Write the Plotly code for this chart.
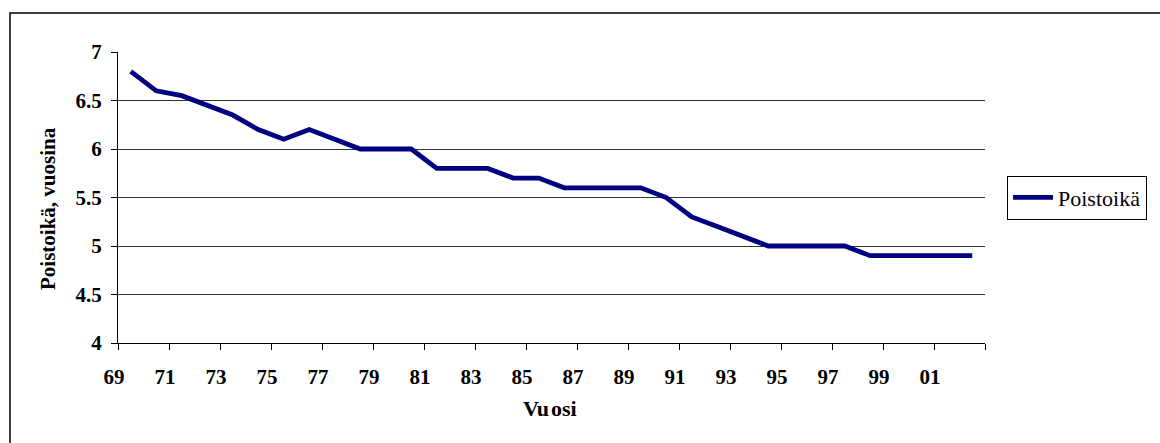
import plotly.graph_objects as go

years = [str(y) for y in range(1969, 2003)]
poistoika = [6.8, 6.6, 6.55, 6.45, 6.35, 6.2, 6.1, 6.2, 6.1, 6.0,
             6.0, 6.0, 5.8, 5.8, 5.8, 5.7, 5.7, 5.6, 5.6, 5.6,
             5.6, 5.5, 5.3, 5.2, 5.1, 5.0, 5.0, 5.0, 5.0, 4.9,
             4.9, 4.9, 4.9, 4.9]
x_labels = ["69", "71", "73", "75", "77", "79", "81", "83", "85",
            "87", "89", "91", "93", "95", "97", "99", "01", ""]
y_ticks = [4, 4.5, 5, 5.5, 6, 6.5, 7]

W, H = 1160, 443
L, R, T, B = 118, 175, 52, 100
pw, ph = W - L - R, H - T - B

idx = list(range(len(years)))
n = len(years)
tick_pos = [-0.5 + 2 * k for k in range(n // 2 + 1)]

FONT = "Liberation Serif"

fig = go.Figure()
fig.add_trace(go.Scatter(
    x=idx, y=poistoika, mode="lines", name="Poistoikä",
    line=dict(color="#000080", width=4.8),
    customdata=years, hovertemplate="%{customdata}: %{y}<extra></extra>",
))

fig.update_layout(
    width=W, height=H,
    margin=dict(l=L, r=R, t=T, b=B, autoexpand=False),
    paper_bgcolor="white", plot_bgcolor="white",
    font=dict(family=FONT, color="black"),
    xaxis=dict(
        range=[-0.5, n - 0.5], tickmode="array", tickvals=tick_pos,
        ticktext=x_labels, ticks="outside", ticklen=6,
        tickcolor="black", tickwidth=1, showgrid=False, zeroline=False,
        showline=True, linecolor="black", linewidth=1,
        ticklabelshift=-4, ticklabelstandoff=9,
        tickfont=dict(size=21, family=FONT, weight="bold", color="black"),
    ),
    yaxis=dict(
        range=[4, 7], tickmode="array", tickvals=y_ticks,
        ticktext=[f"{v:g}" for v in y_ticks], ticks="outside", ticklen=6,
        tickcolor="black", showgrid=True, gridcolor="#333333", gridwidth=1,
        zeroline=False, showline=True, linecolor="black", linewidth=1,
        ticklabelstandoff=5,
        tickfont=dict(size=21, family=FONT, weight="bold", color="black"),
    ),
    showlegend=True,
    legend=dict(
        x=(1007 - L) / pw, y=0.5, xanchor="left", yanchor="middle",
        bordercolor="black", borderwidth=1, bgcolor="white",
        font=dict(size=22, family=FONT, color="black"),
        itemwidth=40,
    ),
    annotations=[
        dict(text="<b>Poistoikä, vuosina</b>", xref="paper", yref="paper",
             x=(48 - L) / pw, y=(T + ph - 209) / ph, xanchor="center",
             yanchor="middle", textangle=-90, showarrow=False,
             font=dict(size=21, family=FONT, color="black")),
        dict(text="<b>Vu\u200aosi</b>", xref="paper", yref="paper",
             x=(550 - L) / pw, y=(T + ph - 408) / ph, xanchor="center",
             yanchor="middle", showarrow=False,
             font=dict(size=22, family=FONT, color="black")),
    ],
    shapes=[
        dict(type="rect", xref="paper", yref="paper",
             x0=(10 - L) / pw, x1=(1300 - L) / pw,
             y0=(T + ph - 13) / ph, y1=(T + ph - 600) / ph,
             line=dict(color="black", width=1.5), fillcolor="rgba(0,0,0,0)",
             layer="below"),
    ],
)

fig.write_html("out.html", config={"displayModeBar": False},
               post_script="document.body.style.margin='0';document.body.style.padding='0';")
